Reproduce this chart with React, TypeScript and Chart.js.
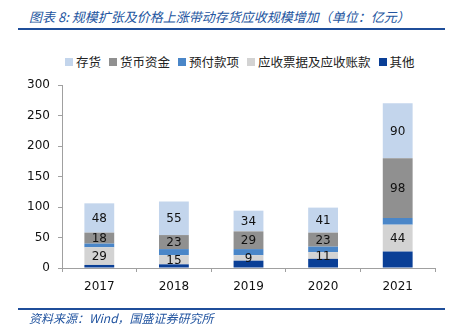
import React, { useEffect, useRef } from "react";
import { Chart, registerables } from "chart.js";

Chart.register(...registerables);

const years = ["2017", "2018", "2019", "2020", "2021"];
const inventory = [48, 55, 34, 41, 90];
const cash = [18, 23, 29, 23, 98];
const prepaid = [6, 10, 10, 9, 11];
const receivables = [29, 15, 9, 11, 44];
const others = [5, 6, 12, 15, 27];

const seriesNames = ["存货", "货币资金", "预付款项", "应收票据及应收账款", "其他"];
const seriesColors = ["#C3D5EC", "#909090", "#4A86C8", "#D3D3D3", "#0A3F96"];
const yTicks = [0, 50, 100, 150, 200, 250, 300];

const NUM_FONT = "'DejaVu Sans', Tahoma, Verdana, sans-serif";
const CJK_FONT = "'Noto Sans CJK SC', sans-serif";

const labelPlugin = {
  id: "segLabels",
  afterDatasetsDraw(chart: any) {
    const ctx = chart.ctx;
    ctx.save();
    ctx.font = `12px ${NUM_FONT}`;
    ctx.fillStyle = "#111";
    ctx.textAlign = "center";
    ctx.textBaseline = "middle";
    chart.data.datasets.forEach((ds: any, i: number) => {
      if (!ds.showLabel) return;
      const meta = chart.getDatasetMeta(i);
      meta.data.forEach((bar: any, j: number) => {
        const mid = (bar.y + bar.base) / 2;
        ctx.fillText(String(ds.data[j]), bar.x, mid + 1);
      });
    });
    ctx.restore();
  },
};

export default function App() {
  const ref = useRef<HTMLCanvasElement>(null);
  useEffect(() => {
    document.body.style.margin = "0";
    const stackOrder = [
      { name: seriesNames[4], data: others, color: seriesColors[4], label: false },
      { name: seriesNames[3], data: receivables, color: seriesColors[3], label: true },
      { name: seriesNames[2], data: prepaid, color: seriesColors[2], label: false },
      { name: seriesNames[1], data: cash, color: seriesColors[1], label: true },
      { name: seriesNames[0], data: inventory, color: seriesColors[0], label: true },
    ];
    const chart = new Chart(ref.current!, {
      type: "bar",
      data: {
        labels: years,
        datasets: stackOrder.map((s) => ({
          label: s.name,
          data: s.data,
          backgroundColor: s.color,
          borderWidth: 0,
          barPercentage: 0.4,
          categoryPercentage: 1,
          showLabel: s.label,
        })) as any,
      },
      options: {
        animation: false,
        responsive: false,
        layout: { padding: { left: 0, right: 18, top: 85, bottom: 0 } },
        plugins: {
          legend: { display: false },
          tooltip: { enabled: false },
        },
        scales: {
          x: {
            stacked: true,
            afterFit: (scale: any) => {
              scale.height = 63;
            },
            grid: {
              display: true,
              drawOnChartArea: false,
              offset: true,
              tickLength: 4,
              color: "#A0A0A0",
            },
            border: { color: "#A0A0A0", width: 1 },
            ticks: { color: "#111", font: { family: NUM_FONT, size: 12 }, padding: 8 },
          },
          y: {
            stacked: true,
            min: 0,
            max: 300,
            afterFit: (scale: any) => {
              scale.width = 62;
            },
            afterBuildTicks: (scale: any) => {
              scale.ticks = yTicks.map((v) => ({ value: v }));
            },
            grid: {
              display: true,
              drawOnChartArea: false,
              tickLength: 4,
              color: "#A0A0A0",
            },
            border: { color: "#A0A0A0", width: 1 },
            ticks: { color: "#111", font: { family: NUM_FONT, size: 12 }, padding: 8 },
          },
        },
      },
      plugins: [labelPlugin],
    });
    return () => chart.destroy();
  }, []);

  return (
    <div style={{ position: "relative", width: 453, height: 331, background: "#fff", overflow: "hidden" }}>
      <div
        style={{
          position: "absolute",
          left: 29,
          top: 8,
          fontFamily: CJK_FONT,
          fontStyle: "italic",
          fontSize: 13,
          color: "#2355A0",
          whiteSpace: "nowrap",
          lineHeight: "18px",
        }}
      >
        图表 8: 规模扩张及价格上涨带动存货应收规模增加（单位：亿元）
      </div>
      <div style={{ position: "absolute", left: 18, top: 28, width: 427, height: 2, background: "#1F4E9A" }} />
      <div
        style={{
          position: "absolute",
          left: 65,
          top: 53,
          display: "flex",
          alignItems: "center",
          gap: 8,
          fontFamily: CJK_FONT,
          fontSize: 12.5,
          lineHeight: "18px",
          color: "#222",
          whiteSpace: "nowrap",
        }}
      >
        {seriesNames.map((n, i) => (
          <div key={n} style={{ display: "flex", alignItems: "center" }}>
            <span style={{ display: "inline-block", width: 8, height: 8, background: seriesColors[i], marginRight: 3 }} />
            <span>{n}</span>
          </div>
        ))}
      </div>
      <canvas ref={ref} width={453} height={331} style={{ position: "absolute", left: 0, top: 0 }} />
      <div style={{ position: "absolute", left: 18, top: 308, width: 427, height: 2, background: "#1F4E9A" }} />
      <div
        style={{
          position: "absolute",
          left: 29,
          top: 310,
          fontFamily: CJK_FONT,
          fontStyle: "italic",
          fontSize: 12,
          color: "#2355A0",
          whiteSpace: "nowrap",
          lineHeight: "16px",
        }}
      >
        资料来源：Wind，国盛证券研究所
      </div>
    </div>
  );
}
